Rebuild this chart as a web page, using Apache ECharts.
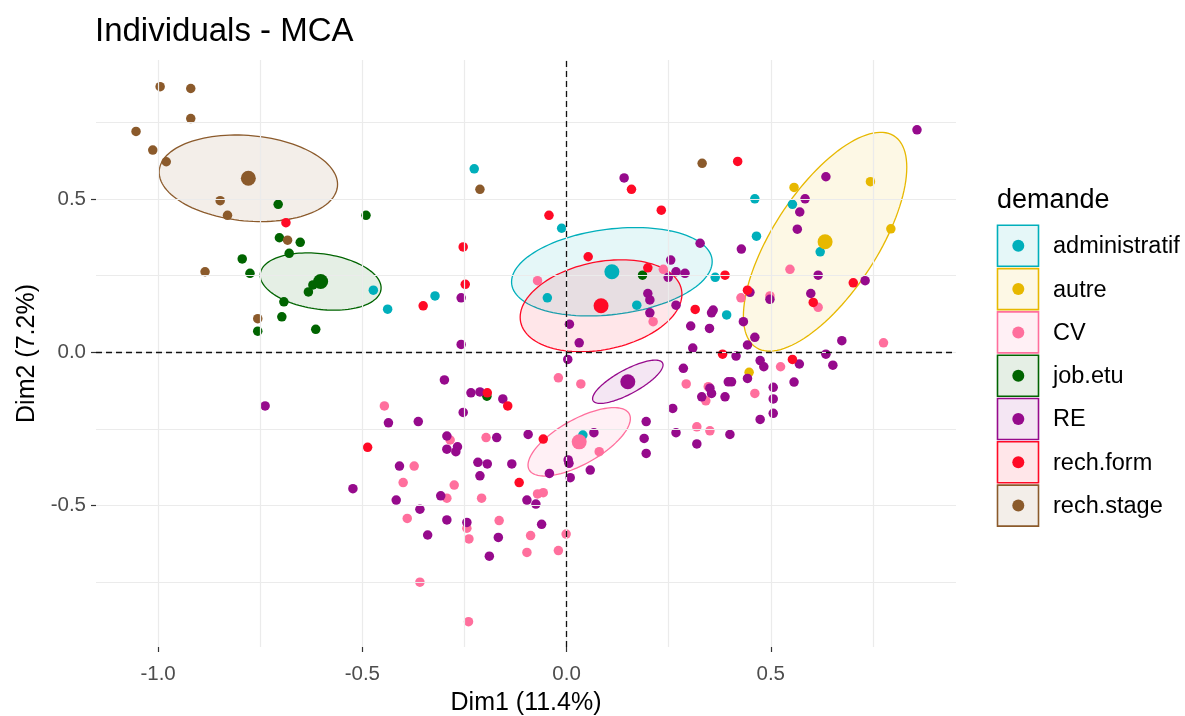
<!DOCTYPE html>
<html><head><meta charset="utf-8">
<script src="https://cdn.jsdelivr.net/npm/echarts@6/dist/echarts.min.js"></script>
<style>html,body{margin:0;padding:0;background:#fff}#c{width:1185px;height:716px}</style>
</head><body><div id="c"></div>
<script>
const categories = ['administratif','autre','CV','job.etu','RE','rech.form','rech.stage'];
const colors = ['#00AFBB','#E7B800','#FF6F9D','#006400','#960A8C','#FF0A26','#8B5A2B'];

const administratif = [[-0.473,0.203],[-0.438,0.141],[-0.226,0.599],[-0.012,0.405],[0.461,0.501],[0.465,0.379],[0.553,0.483],[0.621,0.328],[0.364,0.245],[0.392,0.122],[-0.322,0.184],[-0.047,0.178],[0.172,0.154],[0.040,-0.270]];
const autre = [[0.557,0.538],[0.744,0.557],[0.794,0.403],[0.447,-0.065]];
const CV = [[-0.446,-0.175],[-0.071,0.234],[0.237,0.271],[0.212,0.100],[0.547,0.271],[0.427,0.178],[0.498,0.184],[0.616,0.147],[0.776,0.031],[0.524,-0.047],[0.293,-0.103],[0.347,-0.112],[0.341,-0.158],[0.461,-0.134],[0.319,-0.243],[0.351,-0.256],[-0.020,-0.083],[0.035,-0.103],[-0.197,-0.278],[-0.285,-0.286],[0.080,-0.324],[-0.373,-0.371],[-0.400,-0.425],[-0.275,-0.433],[-0.293,-0.476],[-0.208,-0.476],[-0.390,-0.542],[-0.244,-0.574],[-0.239,-0.609],[-0.165,-0.549],[-0.071,-0.462],[-0.057,-0.458],[-0.088,-0.598],[-0.001,-0.593],[-0.097,-0.653],[-0.020,-0.647],[-0.359,-0.750],[-0.240,-0.879]];
const jobEtu = [[-0.706,0.483],[-0.491,0.447],[-0.703,0.374],[-0.652,0.359],[-0.679,0.323],[-0.794,0.305],[-0.775,0.258],[-0.692,0.165],[-0.697,0.116],[-0.756,0.069],[-0.614,0.075],[-0.632,0.197],[-0.621,0.220],[-0.599,0.226],[0.186,0.252],[-0.195,-0.143]];
const RE = [[0.141,0.569],[0.858,0.726],[0.635,0.573],[0.584,0.501],[0.571,0.458],[0.565,0.402],[0.327,0.356],[0.428,0.337],[0.255,0.301],[0.268,0.263],[0.290,0.258],[0.249,0.245],[0.616,0.252],[0.731,0.234],[0.449,0.196],[0.498,0.173],[0.598,0.192],[0.268,0.154],[0.359,0.138],[0.355,0.129],[0.433,0.100],[0.304,0.086],[0.350,0.078],[0.461,0.049],[0.443,0.024],[0.309,0.014],[0.415,-0.012],[0.674,0.038],[0.635,-0.006],[0.570,-0.038],[0.474,-0.027],[0.483,-0.047],[0.652,-0.042],[0.286,-0.052],[0.443,-0.085],[0.396,-0.096],[0.404,-0.096],[0.557,-0.097],[0.506,-0.114],[0.351,-0.117],[0.355,-0.134],[0.331,-0.145],[0.388,-0.145],[0.506,-0.152],[0.506,-0.199],[0.474,-0.219],[0.260,-0.183],[0.268,-0.262],[0.400,-0.268],[0.319,-0.299],[0.195,-0.226],[0.190,-0.281],[0.195,-0.330],[0.067,-0.262],[0.058,-0.384],[0.004,-0.351],[0.006,-0.362],[-0.042,-0.395],[0.009,-0.409],[-0.094,-0.268],[-0.171,-0.278],[-0.293,-0.273],[-0.293,-0.316],[-0.267,-0.308],[-0.271,-0.324],[-0.253,-0.196],[-0.234,-0.132],[-0.212,-0.129],[-0.156,-0.152],[-0.299,-0.090],[-0.363,-0.226],[-0.436,-0.230],[-0.738,-0.175],[-0.258,0.178],[-0.258,0.026],[0.007,0.092],[0.031,0.031],[0.003,-0.023],[0.199,0.192],[0.204,0.171],[0.204,0.129],[-0.409,-0.371],[-0.217,-0.359],[-0.194,-0.364],[-0.212,-0.403],[-0.134,-0.364],[-0.308,-0.468],[-0.417,-0.482],[-0.359,-0.512],[-0.293,-0.547],[-0.244,-0.555],[-0.167,-0.604],[-0.340,-0.596],[-0.097,-0.482],[-0.075,-0.495],[-0.061,-0.561],[-0.189,-0.665],[-0.523,-0.445]];
const rechForm = [[-0.687,0.423],[-0.043,0.447],[-0.253,0.344],[0.159,0.532],[0.232,0.464],[0.419,0.623],[0.388,0.252],[0.702,0.227],[0.443,0.203],[0.604,0.163],[0.315,0.140],[0.382,-0.006],[0.553,-0.023],[-0.248,0.222],[-0.351,0.152],[0.053,0.312],[0.199,0.276],[-0.194,-0.132],[-0.144,-0.175],[-0.057,-0.283],[-0.116,-0.425],[-0.487,-0.310]];
const rechStage = [[-0.995,0.867],[-0.920,0.861],[-0.920,0.763],[-1.054,0.721],[-1.013,0.660],[-0.980,0.622],[-0.848,0.495],[-0.830,0.447],[-0.683,0.366],[-0.885,0.263],[-0.756,0.110],[-0.212,0.532],[0.332,0.617]];
const groupPoints = [administratif, autre, CV, jobEtu, RE, rechForm, rechStage];

const groupMeans = [[0.111,0.263],[0.633,0.361],[0.031,-0.292],[-0.602,0.231],[0.150,-0.096],[0.0845,0.152],[-0.779,0.568]];
// ellipse spread: [half-width x, half-height y, correlation]
const ellipseSpread = [[0.2456,0.1442,0.23],[0.200,0.357,0.68],[0.1253,0.1116,0.68],[0.148,0.0935,-0.22],[0.0862,0.0706,0.78],[0.198,0.150,0.25],[0.2184,0.1413,-0.14]];

const xRange = [-1.152, 0.9535];
const yRange = [-0.9615, 0.954];
const xTicks = [-1.0,-0.5,0.0,0.5];
const yTicks = [-0.5,0.0,0.5];
const xGrid = [-1,-0.75,-0.5,-0.25,0,0.25,0.5,0.75];
const yGrid = [-0.75,-0.5,-0.25,0,0.25,0.5,0.75];

const FONT = '"Liberation Sans", Arial, sans-serif';
function hexA(h,a){const n=parseInt(h.slice(1),16);return 'rgba('+((n>>16)&255)+','+((n>>8)&255)+','+(n&255)+','+a+')';}

const chart = echarts.init(document.getElementById('c'), null, {renderer:'canvas'});

const series = [];
series.push({type:'scatter', data:[], silent:true, z:0,
  markLine:{silent:true, symbol:'none', animation:false, label:{show:false},
    lineStyle:{color:'#EBEBEB', width:1.2, type:'solid'},
    data: xGrid.map(v=>({xAxis:v})).concat(yGrid.map(v=>({yAxis:v})))}});
series.push({type:'custom', silent:true, z:1, animation:false, clip:true,
  data: groupMeans.map((m,i)=>[m[0],m[1],ellipseSpread[i][0],ellipseSpread[i][1],ellipseSpread[i][2],i]),
  encode:{x:0,y:1},
  renderItem:function(params, api){
    const cx=api.value(0), cy=api.value(1), w=api.value(2), h=api.value(3), r=api.value(4), gi=api.value(5);
    const pts=[]; const s=Math.sqrt(1-r*r);
    for(let k=0;k<120;k++){const t=2*Math.PI*k/120;pts.push(api.coord([cx+w*Math.cos(t), cy+h*(r*Math.cos(t)+s*Math.sin(t))]));}
    return {type:'polygon', shape:{points:pts}, style:{fill:hexA(colors[gi],0.1), stroke:colors[gi], lineWidth:1.3}};
  }});
series.push({type:'scatter', data:[], silent:true, z:3,
  markLine:{silent:true, symbol:'none', animation:false, label:{show:false},
    lineStyle:{color:'#111', width:1.3, type:[6,4]},
    data:[{xAxis:0},{yAxis:0}]}});
categories.forEach((c,i)=>{
  series.push({type:'scatter', name:c, data:groupPoints[i], symbolSize:9.5, z:4,
    itemStyle:{color:colors[i], opacity:1}, animation:false});
});
series.push({type:'scatter', name:'means', z:5, animation:false, symbolSize:15,
  data: groupMeans.map((m,i)=>[m[0],m[1],i]),
  itemStyle:{color:function(p){return colors[p.value[2]];}, opacity:1}});

const g = [];
g.push({type:'text', x:997, y:200.5, style:{text:'demande', font:'27px '+FONT, fill:'#000', verticalAlign:'middle', textVerticalAlign:'middle'}});
categories.forEach((c,i)=>{
  const cy = 245.8 + 43.3*i;
  g.push({type:'rect', shape:{x:997.5, y:cy-20.5, width:41, height:41}, style:{fill:hexA(colors[i],0.1), stroke:colors[i], lineWidth:1.6}});
  g.push({type:'circle', shape:{cx:1018.3, cy:cy, r:6}, style:{fill:colors[i]}});
  g.push({type:'text', x:1053, y:cy+1, style:{text:c, font:'23.5px '+FONT, fill:'#000', verticalAlign:'middle', textVerticalAlign:'middle'}});
});

const axisLineHidden = {show:true, onZero:false, lineStyle:{color:'rgba(0,0,0,0)', width:0}};

chart.setOption({
  animation:false,
  backgroundColor:'#fff',
  title:{text:'Individuals - MCA', left:95, top:15, padding:0,
    textStyle:{fontSize:33, fontWeight:'normal', color:'#000', fontFamily:FONT}},
  grid:{left:96, right:229, top:60, bottom:69, containLabel:false, outerBoundsMode:'none'},
  xAxis:{type:'value', min:xRange[0], max:xRange[1],
    name:'Dim1 (11.4%)', nameLocation:'middle', nameGap:44,
    nameTextStyle:{fontSize:25, color:'#000', fontFamily:FONT},
    axisLine:axisLineHidden,
    axisTick:{show:true, inside:false, length:5, customValues:xTicks, lineStyle:{color:'#333', width:1.2}},
    axisLabel:{customValues:xTicks, margin:17, fontSize:20.5, color:'#4D4D4D', fontFamily:FONT,
      formatter:v=>v.toFixed(1)},
    splitLine:{show:false}},
  yAxis:{type:'value', min:yRange[0], max:yRange[1],
    name:'Dim2 (7.2%)', nameLocation:'middle', nameGap:56, nameRotate:90,
    nameTextStyle:{fontSize:25, color:'#000', fontFamily:FONT},
    axisLine:axisLineHidden,
    axisTick:{show:true, inside:false, length:5, customValues:yTicks, lineStyle:{color:'#333', width:1.2}},
    axisLabel:{customValues:yTicks, margin:10, fontSize:20.5, color:'#4D4D4D', fontFamily:FONT,
      formatter:v=>v.toFixed(1)},
    splitLine:{show:false}},
  graphic:g,
  series:series
});
</script></body></html>
